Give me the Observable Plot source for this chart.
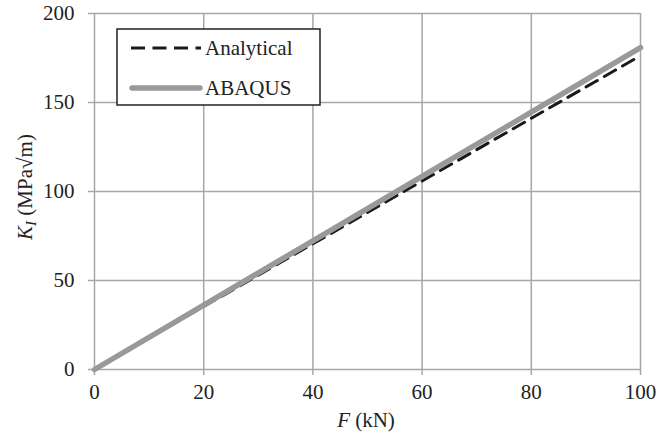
<!DOCTYPE html>
<html><head><meta charset="utf-8">
<script src="https://cdn.jsdelivr.net/npm/d3@7"></script>
<script src="https://cdn.jsdelivr.net/npm/@observablehq/plot@0.6"></script>
<style>body{margin:0;background:#fff} svg text{font-family:"Liberation Serif","Times New Roman",serif}</style>
</head><body><div id="chart"></div>
<script>
const force = [0, 20, 40, 60, 80, 100];
const analytical = [0, 35.4, 70.6, 105.9, 141.1, 176.3];
const abaqus = [0, 36.2, 72.3, 108.5, 144.6, 180.8];
const xTicks = [0, 20, 40, 60, 80, 100];
const yTicks = [0, 50, 100, 150, 200];

const rows = [];
force.forEach((f, i) => {
  rows.push({F: f, K: analytical[i], s: "Analytical"});
  rows.push({F: f, K: abaqus[i], s: "ABAQUS"});
});

const W = 657, H = 438;
const mL = 94, mR = 17, mT = 13, mB = 69;
const FS = 21;
const font = "Liberation Serif";
const plot = Plot.plot({
  width: W, height: H,
  marginLeft: mL, marginRight: mR, marginTop: mT, marginBottom: mB,
  style: {fontFamily: font, fontSize: FS + "px", color: "#222", background: "#fff"},
  x: {domain: [0, 100], ticks: xTicks},
  y: {domain: [0, 200], ticks: yTicks},
  marks: [
    Plot.ruleX(xTicks, {stroke: "#a6a6a6", strokeWidth: 1.5}),
    Plot.ruleY(yTicks, {stroke: "#a6a6a6", strokeWidth: 1.5}),
    Plot.axisX({ticks: xTicks, tickSize: 6, tickPadding: 9, stroke: "#a6a6a6", strokeWidth: 1.5, fill: "#222", label: null, fontSize: FS}),
    Plot.axisY({ticks: yTicks, tickSize: 6, tickPadding: 14, stroke: "#a6a6a6", strokeWidth: 1.5, fill: "#222", label: null, fontSize: FS}),
    Plot.line(rows.filter(d => d.s === "Analytical"), {x: "F", y: "K", stroke: "#1a1a1a", strokeWidth: 3, strokeDasharray: "13,8"}),
    Plot.line(rows.filter(d => d.s === "ABAQUS"), {x: "F", y: "K", stroke: "#999999", strokeWidth: 5.5})
  ]
});
document.getElementById("chart").appendChild(plot);

const svg = d3.select(plot);
// axis titles
const xt = svg.append("text").attr("x", 366).attr("y", 427).attr("text-anchor", "middle")
  .attr("font-size", FS).attr("fill", "#222");
xt.append("tspan").attr("font-style", "italic").text("F");
xt.append("tspan").text(" (kN)");

const yt = svg.append("text").attr("transform", "translate(32,187) rotate(-90)").attr("text-anchor", "middle")
  .attr("font-size", FS).attr("fill", "#222");
yt.append("tspan").attr("font-style", "italic").text("K");
yt.append("tspan").attr("font-style", "italic").attr("font-size", 15).attr("dy", 4).text("I");
yt.append("tspan").attr("dy", -4).text(" (MPa√m)");

// legend
const lg = svg.append("g").attr("text-anchor", "start");
lg.append("rect").attr("x", 117).attr("y", 29).attr("width", 203).attr("height", 76)
  .attr("fill", "#fff").attr("stroke", "#222").attr("stroke-width", 1.5);
lg.append("line").attr("x1", 131).attr("x2", 201).attr("y1", 48).attr("y2", 48)
  .attr("stroke", "#1a1a1a").attr("stroke-width", 3).attr("stroke-dasharray", "14,7.5");
lg.append("line").attr("x1", 132).attr("x2", 200).attr("y1", 88).attr("y2", 88)
  .attr("stroke", "#999999").attr("stroke-width", 5.5).attr("stroke-linecap", "round");
lg.append("text").attr("x", 205).attr("y", 55).attr("font-size", FS).attr("fill", "#222").text("Analytical");
lg.append("text").attr("x", 205).attr("y", 95).attr("font-size", FS).attr("fill", "#222").text("ABAQUS");

svg.selectAll("text").style("font-family", "'Liberation Serif', serif");
</script>
</body></html>
